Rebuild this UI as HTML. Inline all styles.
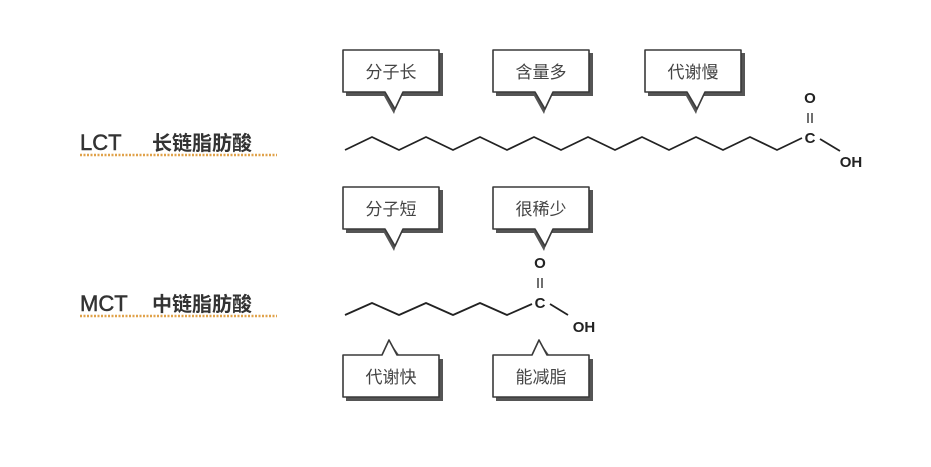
<!DOCTYPE html>
<html><head><meta charset="utf-8"><style>
html,body{margin:0;padding:0;background:#fff;}
svg{display:block;}
text{font-family:"Liberation Sans","Noto Sans CJK SC",sans-serif;}
</style></head><body>
<svg width="931" height="467" viewBox="0 0 931 467" xmlns="http://www.w3.org/2000/svg">
<defs>
<g id="bd">
  <path d="M4,4 H101 V47 H58 L52,65 L42,47 H4 Z" fill="#555"/>
  <path d="M1,1 H97 V43 H61 L53,60 L43,43 H1 Z" fill="#fff" stroke="#3a3a3a" stroke-width="1.6" stroke-linejoin="round"/>
</g>
<g id="bu">
  <path d="M4,22 H40 L50,8 L60,22 H101 V64 H4 Z" fill="#555"/>
  <path d="M1,18 H40 L47,3 L55,18 H97 V60 H1 Z" fill="#fff" stroke="#3a3a3a" stroke-width="1.6" stroke-linejoin="round"/>
</g>
</defs>

<!-- Labels -->
<text x="80" y="150" font-size="22" fill="#333" stroke="#333" stroke-width="0.5">LCT</text>
<text x="152" y="150" font-size="20" fill="#333" font-weight="bold">长链脂肪酸</text>
<line x1="80" y1="155" x2="277" y2="155" stroke="#e0a24a" stroke-width="2.5" stroke-dasharray="2,1.5"/>
<text x="80" y="311" font-size="22" fill="#333" stroke="#333" stroke-width="0.5">MCT</text>
<text x="152" y="311" font-size="20" fill="#333" font-weight="bold">中链脂肪酸</text>
<line x1="80" y1="316" x2="277" y2="316" stroke="#e0a24a" stroke-width="2.5" stroke-dasharray="2,1.5"/>

<!-- Top chain -->
<polyline fill="none" stroke="#222" stroke-width="1.8" stroke-linejoin="round"
points="345,150 372,137 399,150 426,137 453,150 480,137 507,150 534,137 561,150 588,137 615,150 642,137 669,150 696,137 723,150 750,137 777,150 802,138"/>
<text x="810" y="143" font-size="15" fill="#222" text-anchor="middle" font-weight="bold">C</text>
<text x="810" y="103" font-size="15" fill="#222" text-anchor="middle" font-weight="bold">O</text>
<line x1="808" y1="113" x2="808" y2="123" stroke="#222" stroke-width="1.3"/>
<line x1="812" y1="113" x2="812" y2="123" stroke="#222" stroke-width="1.3"/>
<line x1="820" y1="139" x2="840" y2="151" stroke="#222" stroke-width="1.8"/>
<text x="851" y="167" font-size="15" fill="#222" text-anchor="middle" font-weight="bold">OH</text>

<!-- Bottom chain -->
<polyline fill="none" stroke="#222" stroke-width="1.8" stroke-linejoin="round"
points="345,315 372,303 399,315 426,303 453,315 480,303 507,315 532,304"/>
<text x="540" y="308" font-size="15" fill="#222" text-anchor="middle" font-weight="bold">C</text>
<text x="540" y="268" font-size="15" fill="#222" text-anchor="middle" font-weight="bold">O</text>
<line x1="538" y1="278" x2="538" y2="288" stroke="#222" stroke-width="1.3"/>
<line x1="542" y1="278" x2="542" y2="288" stroke="#222" stroke-width="1.3"/>
<line x1="550" y1="304" x2="568" y2="315" stroke="#222" stroke-width="1.8"/>
<text x="584" y="332" font-size="15" fill="#222" text-anchor="middle" font-weight="bold">OH</text>

<!-- Top callouts -->
<g transform="translate(342,49)"><use href="#bd"/><text x="49" y="29" font-size="17" fill="#444" text-anchor="middle">分子长</text></g>
<g transform="translate(492,49)"><use href="#bd"/><text x="49" y="29" font-size="17" fill="#444" text-anchor="middle">含量多</text></g>
<g transform="translate(644,49)"><use href="#bd"/><text x="49" y="29" font-size="17" fill="#444" text-anchor="middle">代谢慢</text></g>

<!-- Middle callouts -->
<g transform="translate(342,186)"><use href="#bd"/><text x="49" y="29" font-size="17" fill="#444" text-anchor="middle">分子短</text></g>
<g transform="translate(492,186)"><use href="#bd"/><text x="49" y="29" font-size="17" fill="#444" text-anchor="middle">很稀少</text></g>

<!-- Bottom callouts -->
<g transform="translate(342,337)"><use href="#bu"/><text x="49" y="46" font-size="17" fill="#444" text-anchor="middle">代谢快</text></g>
<g transform="translate(492,337)"><use href="#bu"/><text x="49" y="46" font-size="17" fill="#444" text-anchor="middle">能减脂</text></g>
</svg>
</body></html>
